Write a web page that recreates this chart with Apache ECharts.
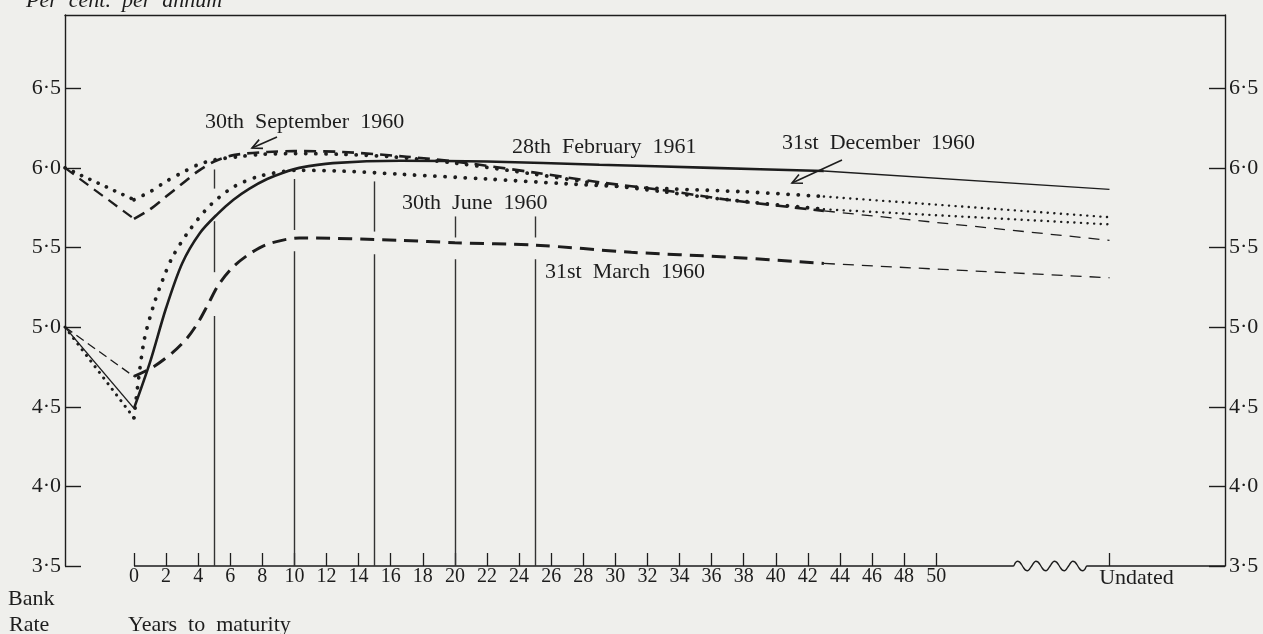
<!DOCTYPE html>
<html>
<head>
<meta charset="utf-8">
<title>Yield curves 1960-61</title>
<script src="https://cdn.jsdelivr.net/npm/echarts@6/dist/echarts.min.js"></script>
<style>
  html, body { margin: 0; padding: 0; background: #efefec; }
  #chart { width: 1263px; height: 634px; }
</style>
</head>
<body>
<div id="chart"></div>
<script>
// axis positions (years to maturity)
var bankRateX = -4.3;   // the "Bank Rate" column sits on the left axis
var undatedX = 60.8;    // position of the "Undated" tick
var axisMaxX = 68;
var breakStartX = 54.8, breakEndX = 59.4;
var tickYears = [0,2,4,6,8,10,12,14,16,18,20,22,24,26,28,30,32,34,36,38,40,42,44,46,48,50];
var rateTicks = [3.5, 4.0, 4.5, 5.0, 5.5, 6.0, 6.5];

// 31st March 1960 (heavy dashes)
var marchBank = 5.0;
var marchCurve = [[0,4.69],[1.2,4.75],[2.4,4.84],[3.3,4.93],[4.0,5.03],[4.6,5.14],[5.3,5.27],[6.2,5.38],[7.2,5.46],[8.3,5.52],[10.3,5.56],[16.6,5.545],[20,5.53],[25,5.515],[31,5.47],[37,5.44],[43,5.40]];
var marchUndated = 5.31;

// 30th June 1960 (dots)
var juneBank = 6.0;
var juneCurve = [[0,5.80],[1,5.85],[2,5.915],[3,5.97],[4,6.02],[5,6.05],[6.5,6.07],[8,6.085],[10,6.09],[13,6.085],[16,6.07],[20,6.03],[25,5.96],[29,5.90],[33,5.85],[37,5.80],[43,5.74]];
var juneUndated = 5.645;

// 30th September 1960 (dashes)
var septBank = 6.0;
var septCurve = [[0,5.68],[1,5.74],[2,5.82],[3,5.90],[4,5.98],[5,6.04],[6.2,6.08],[8.3,6.10],[10,6.105],[13,6.10],[17,6.07],[20,6.04],[25,5.97],[29,5.91],[33,5.86],[37,5.80],[43,5.73]];
var septUndated = 5.545;

// 31st December 1960 (dots)
var decBank = 5.0;
var decCurve = [[0,4.43],[0.6,4.90],[1.2,5.13],[1.8,5.30],[2.4,5.44],[3.4,5.60],[4.7,5.76],[6.2,5.88],[7.9,5.95],[10.3,5.985],[13,5.98],[16.6,5.96],[22,5.93],[27,5.90],[33,5.87],[38,5.85],[43,5.82]];
var decUndated = 5.69;

// 28th February 1961 (solid)
var febBank = 5.0;
var febCurve = [[0,4.49],[1,4.78],[2,5.12],[3,5.40],[4.1,5.59],[5.2,5.71],[6.2,5.80],[7.2,5.87],[8.3,5.93],[9.3,5.97],[10.3,6.00],[12.4,6.03],[16.6,6.045],[22,6.04],[29,6.02],[36,6.00],[43,5.98]];
var febUndated = 5.865;

// vertical rules at 5,10,15,20,25 years, broken where curves pass: [year, from, to]
var ruleSegments = [
  [5,3.5,5.07],[5,5.345,5.665],[5,5.87,5.99],
  [10,3.5,5.476],[10,5.61,5.93],
  [15,3.5,5.457],[15,5.60,5.915],
  [20,3.5,5.426],[20,5.563,5.695],
  [25,3.5,5.426],[25,5.563,5.695]
];

var ink = '#1d1d1d';
var serif = '"Liberation Serif", "DejaVu Serif", serif';

function curveSeries(name, bank, curve, undated, main, link, tail) {
    var last = curve[curve.length - 1];
    var base = { type: 'line', symbol: 'none', silent: true, color: ink };
    return [
        Object.assign({}, base, { name: name + ' bank', data: [[bankRateX, bank], curve[0]], lineStyle: link }),
        Object.assign({}, base, { name: name, data: curve, smooth: 0.3, lineStyle: main }),
        Object.assign({}, base, { name: name + ' undated', data: [last, [undatedX, undated]], lineStyle: tail })
    ];
}

function dots(w, gap) { return { color: ink, width: w, type: [0.1, gap], cap: 'round' }; }
function dashes(w, d, g) { return { color: ink, width: w, type: [d, g] }; }
function solid(w) { return { color: ink, width: w, type: 'solid' }; }

// baseline with a wavy break before "Undated"
var baseline = [[0,3.5],[breakStartX,3.5]];
for (var i = 1; i < 36; i++) {
    var t = i / 36;
    baseline.push([breakStartX + (breakEndX - breakStartX) * t, 3.5 + 0.03 * Math.sin(t * Math.PI * 8)]);
}
baseline.push([breakEndX,3.5],[axisMaxX,3.5]);

var series = [].concat(
    curveSeries('31st March 1960', marchBank, marchCurve, marchUndated, dashes(3, 14, 8), dashes(1.3, 9, 5), dashes(1.3, 11, 8)),
    curveSeries('30th June 1960', juneBank, juneCurve, juneUndated, dots(3.8, 10), dots(3.6, 9), dots(2.4, 6.5)),
    curveSeries('30th September 1960', septBank, septCurve, septUndated, dashes(2.6, 12, 7), dashes(2.2, 11, 7), dashes(1.3, 11, 8)),
    curveSeries('31st December 1960', decBank, decCurve, decUndated, dots(3.8, 10), dots(3, 7), dots(2.4, 6.5)),
    curveSeries('28th February 1961', febBank, febCurve, febUndated, solid(2.6), solid(1.4), solid(1.4)),
    [{
        name: 'baseline', type: 'line', symbol: 'none', silent: true, clip: false,
        data: baseline, smooth: 0.3,
        lineStyle: { color: ink, width: 1.4 },
        markLine: {
            silent: true, symbol: ['none', 'none'], label: { show: false },
            lineStyle: { color: '#333', width: 1.4, type: 'solid' },
            data: ruleSegments.map(function (s) { return [{ coord: [s[0], s[1]] }, { coord: [s[0], s[2]] }]; })
        }
    }]
);

function rateLabel(v) { return v.toFixed(1).replace('.', '\u00b7'); }

function arrow(x1, y1, x2, y2) {
    var a = Math.atan2(y2 - y1, x2 - x1), len = 11;
    return [
        { type: 'line', shape: { x1: x1, y1: y1, x2: x2, y2: y2 }, style: { stroke: ink, lineWidth: 1.6 } },
        { type: 'polyline', shape: { points: [
            [x2 - len * Math.cos(a - 0.45), y2 - len * Math.sin(a - 0.45)],
            [x2, y2],
            [x2 - len * Math.cos(a + 0.45), y2 - len * Math.sin(a + 0.45)]
        ] }, style: { stroke: ink, lineWidth: 1.6, fill: null } }
    ];
}

function note(text, x, y, size, italic) {
    return { type: 'text', x: x, y: y, style: {
        text: text, fill: ink, verticalAlign: 'middle',
        font: (italic ? 'italic ' : '') + size + 'px ' + serif
    } };
}

var chart = echarts.init(document.getElementById('chart'));
chart.setOption({
    backgroundColor: '#efefec',
    animation: false,
    grid: { left: 65, right: 38, top: 15, bottom: 68 },
    xAxis: [{
        type: 'value', min: bankRateX, max: axisMaxX,
        axisLine: { show: false }, splitLine: { show: false },
        axisTick: { show: true, inside: true, length: 13, customValues: tickYears.concat([undatedX]), lineStyle: { color: ink, width: 1.3 } },
        axisLabel: {
            customValues: tickYears.concat([undatedX]), margin: 1,
            color: ink, fontFamily: serif, fontSize: 20,
            formatter: function (v) { return Math.abs(v - undatedX) < 0.01 ? '{u|Undated}' : String(v); },
            rich: { u: { color: ink, fontFamily: serif, fontSize: 22, padding: [0, 0, 0, 54] } }
        }
    }, {
        type: 'value', position: 'top', min: bankRateX, max: axisMaxX,
        axisLine: { show: true, onZero: false, lineStyle: { color: ink, width: 1.4 } },
        axisTick: { show: false }, axisLabel: { show: false }, splitLine: { show: false }
    }],
    yAxis: [{
        type: 'value', position: 'left', min: 3.5, max: 6.96,
        axisLine: { show: true, onZero: false, lineStyle: { color: ink, width: 1.4 } },
        axisTick: { show: true, inside: true, length: 16, customValues: rateTicks, lineStyle: { color: ink, width: 1.4 } },
        axisLabel: { customValues: rateTicks, margin: 4, color: ink, fontFamily: serif, fontSize: 22, formatter: rateLabel },
        splitLine: { show: false }
    }, {
        type: 'value', position: 'right', min: 3.5, max: 6.96,
        axisLine: { show: true, onZero: false, lineStyle: { color: ink, width: 1.4 } },
        axisTick: { show: true, inside: true, length: 16, customValues: rateTicks, lineStyle: { color: ink, width: 1.4 } },
        axisLabel: { customValues: rateTicks, margin: 4, color: ink, fontFamily: serif, fontSize: 22, formatter: rateLabel },
        splitLine: { show: false }
    }],
    series: series,
    graphic: [
        note('Per  cent.  per  annum', 26, 1, 22, true),
        note('30th  September  1960', 205, 122, 22),
        note('28th  February  1961', 512, 147, 22),
        note('31st  December  1960', 782, 143, 22),
        note('30th  June  1960', 402, 203, 22),
        note('31st  March  1960', 545, 272, 22),
        note('Bank', 8, 599, 22),
        note('Rate', 9, 625, 22),
        note('Years  to  maturity', 128, 625, 22)
    ].concat(arrow(277, 137, 252, 148), arrow(842, 160, 792, 183))
});
</script>
</body>
</html>
